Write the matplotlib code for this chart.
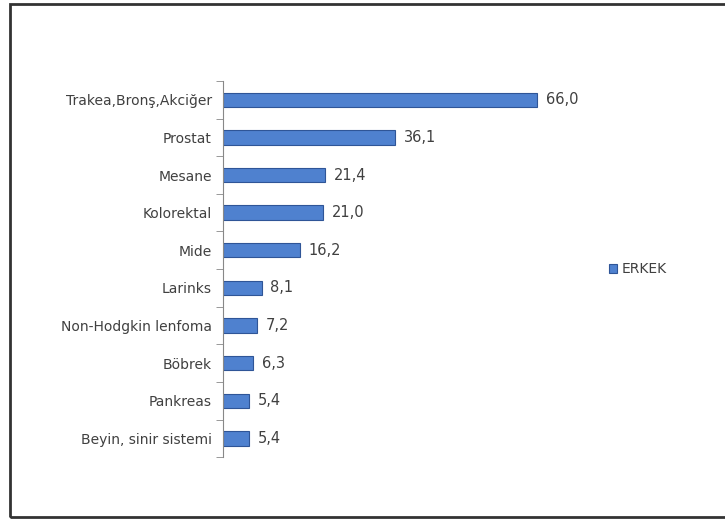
import matplotlib.pyplot as plt
import numpy as np
from matplotlib.patches import Rectangle

categories = ["Trakea,Bronş,Akciğer", "Prostat", "Mesane", "Kolorektal", "Mide",
              "Larinks", "Non-Hodgkin lenfoma", "Böbrek", "Pankreas", "Beyin, sinir sistemi"]
values = [66.0, 36.1, 21.4, 21.0, 16.2, 8.1, 7.2, 6.3, 5.4, 5.4]
series_name = "ERKEK"

fig = plt.figure(figsize=(7.25, 5.22), dpi=100)
ax = fig.add_axes([0.3076, 0.124, 0.46, 0.721])

y = np.arange(len(categories))
ax.barh(y, values, height=0.38, color="#4F81CF", edgecolor="#2F5597",
        linewidth=0.8, label=series_name)
for yi, v in zip(y, values):
    ax.text(v + 1.8, yi, f"{v:.1f}".replace(".", ","), va="center", ha="left",
            fontsize=10.5, color="#404040")

ax.set_ylim(len(categories) - 0.5, -0.5)
ax.set_xlim(0, 70)
ax.set_yticks(y)
ax.set_yticklabels(categories, fontsize=10, color="#404040")
ax.set_yticks(np.arange(-0.5, len(categories)), minor=True)
ax.tick_params(axis="y", which="major", length=0, pad=8)
ax.tick_params(axis="y", which="minor", length=5, color="#888888")
ax.set_xticks([])
for s in ["top", "right", "bottom"]:
    ax.spines[s].set_visible(False)
ax.spines["left"].set_color("#888888")

ax.legend(loc="center left", bbox_to_anchor=(1.12, 0.5), frameon=False,
          fontsize=10, handlelength=0.6, handleheight=0.6, handletextpad=0.3,
          labelcolor="#404040")

fig.patches.append(Rectangle((10 / 725, 5 / 522), 1.0, 1 - 9 / 522,
                             transform=fig.transFigure, fill=False,
                             edgecolor="#333333", linewidth=2))

fig.savefig("out.png", dpi=100)
